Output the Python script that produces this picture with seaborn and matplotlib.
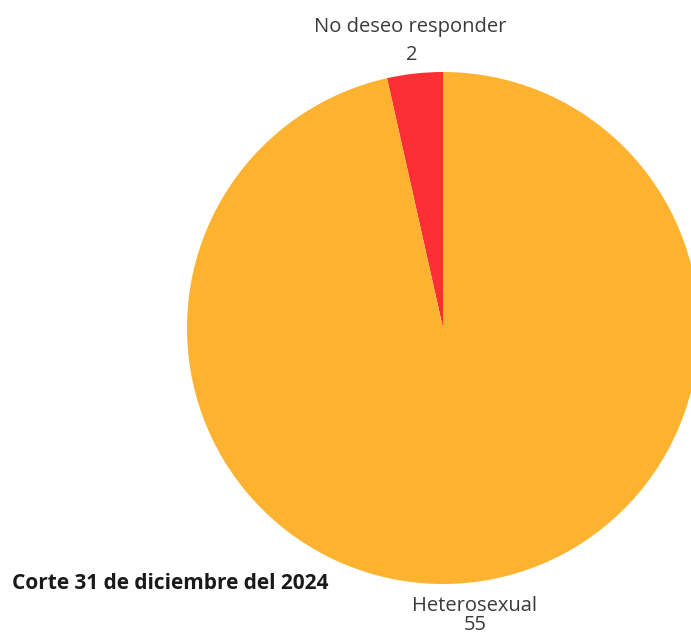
import matplotlib
matplotlib.use("Agg")
import matplotlib.pyplot as plt
import seaborn as sns

categories = ["No deseo responder", "Heterosexual"]
counts = [2, 55]
colors = ["#FD2F36", "#FDB32F"]
note = "Corte 31 de diciembre del 2024"

sns.set_theme(style="white")
plt.rcParams["font.family"] = ["Open Sans", "DejaVu Sans"]

W, H = 691, 637
fig = plt.figure(figsize=(W / 100, H / 100), dpi=100)
fig.patch.set_facecolor("white")

# pie centred at (443, 328) px with a 256 px radius
cx, cy, r = 443, 328, 256
ax = fig.add_axes([(cx - r) / W, (H - cy - r) / H, 2 * r / W, 2 * r / H])
wedges, _ = ax.pie(counts, colors=colors, startangle=90, counterclock=True,
                   radius=1.0, wedgeprops=dict(linewidth=0))
ax.set_xlim(-1, 1)
ax.set_ylim(-1, 1)
ax.set_aspect("equal")
ax.axis("off")
for w in wedges:
    w.set_clip_on(False)

def px(x, y):
    return x / W, 1 - y / H

tc = "#3a3a3a"
fs = 14.5
fig.text(*px(410, 32), categories[0], ha="center", va="baseline", fontsize=fs, color=tc)
fig.text(*px(412, 60), str(counts[0]), ha="center", va="baseline", fontsize=fs, color=tc)
fig.text(*px(475, 611), categories[1], ha="center", va="baseline", fontsize=fs, color=tc)
fig.text(*px(475, 630), str(counts[1]), ha="center", va="baseline", fontsize=fs, color=tc)
fig.text(*px(12, 589), note, ha="left", va="baseline", fontsize=15,
         fontweight="bold", color="#1a1a1a")

fig.savefig("out.png", dpi=100, facecolor="white")
